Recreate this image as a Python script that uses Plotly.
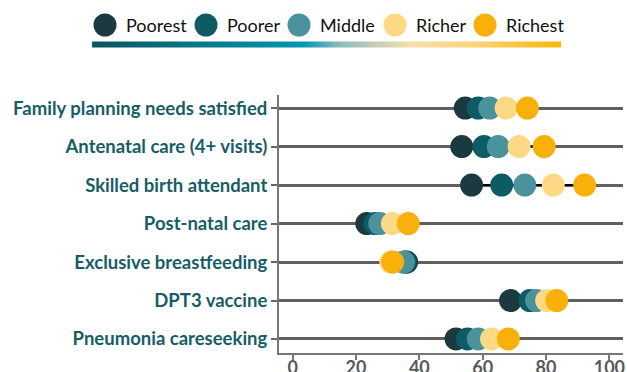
import plotly.graph_objects as go

# Coverage indicators (top to bottom) and values by wealth quintile (%)
indicators = [
    "Family planning needs satisfied",
    "Antenatal care (4+ visits)",
    "Skilled birth attendant",
    "Post-natal care",
    "Exclusive breastfeeding",
    "DPT3 vaccine",
    "Pneumonia careseeking",
]
quintiles = ["Poorest", "Poorer", "Middle", "Richer", "Richest"]
poorest = [54.5, 53.4, 56.5, 23.4, 36.0, 68.8, 51.6]
poorer = [58.6, 60.4, 66.0, 26.0, 35.5, 74.9, 55.2]
middle = [62.2, 64.9, 73.3, 27.5, 35.0, 77.0, 58.6]
richer = [67.4, 71.5, 82.3, 31.5, 31.0, 80.2, 62.8]
richest = [74.1, 79.4, 92.2, 36.5, 31.6, 83.4, 68.1]
x_ticks = [0, 20, 40, 60, 80, 100]

colors = ["#1b3a40", "#0d5b65", "#4a929c", "#fdd985", "#f9b00a"]
series = [poorest, poorer, middle, richer, richest]

W, H = 627, 372
label_col = "#175d66"
n = len(indicators)
ypos = list(range(n - 1, -1, -1))  # first indicator at top

fig = go.Figure()

# black range segment from lowest to highest quintile in each row
seg_x, seg_y = [], []
for i in range(n):
    vals = [s[i] for s in series]
    seg_x += [min(vals), max(vals), None]
    seg_y += [ypos[i], ypos[i], None]
fig.add_trace(go.Scatter(x=seg_x, y=seg_y, mode="lines",
                         line=dict(color="black", width=2),
                         hoverinfo="skip", showlegend=False))

for name, vals, c in zip(quintiles, series, colors):
    fig.add_trace(go.Scatter(x=vals, y=ypos, mode="markers", name=name,
                             marker=dict(size=23, color=c, line=dict(width=0)),
                             showlegend=False))

# custom legend drawn in pixel coordinates over the whole figure
leg_x = [105, 206, 299, 395, 485]
leg_y = 25
fig.add_trace(go.Scatter(x=leg_x, y=[leg_y] * 5, mode="markers",
                         marker=dict(size=23, color=colors, line=dict(width=0)),
                         xaxis="x2", yaxis="y2", hoverinfo="skip",
                         showlegend=False))
for lx, name in zip(leg_x, quintiles):
    fig.add_annotation(x=lx + 19, y=leg_y, xref="x2", yref="y2", text=name,
                       showarrow=False, xanchor="left", yanchor="middle",
                       font=dict(family="Lato", size=18, color="#111111"))

# gradient bar under the legend
bar_x0, bar_x1 = 94, 563
steps = 120
z = [[k / (steps - 1) for k in range(steps)]]
fig.add_trace(go.Heatmap(z=z, x0=bar_x0, dx=(bar_x1 - bar_x0) / steps,
                         y=[41.5, 47.5], xaxis="x2", yaxis="y2",
                         colorscale=[[0.0, "#0c5560"], [0.22, "#067787"],
                                     [0.45, "#0097b2"], [0.53, "#8cbcc0"],
                                     [0.68, "#f8dfa8"], [0.82, "#fbd378"],
                                     [1.0, "#f8b70a"]],
                         showscale=False, hoverinfo="skip", zmin=0, zmax=1))

plot_h = H - 19
fig.update_layout(
    width=W, height=H,
    margin=dict(l=0, r=4, t=0, b=19, autoexpand=False),
    paper_bgcolor="white", plot_bgcolor="rgba(0,0,0,0)",
    xaxis=dict(domain=[279 / 623, 1], range=[-4.3, 104.3],
               tickvals=x_ticks, ticks="outside", ticklen=5,
               tickcolor="#777777", tickwidth=1.5, ticklabelstandoff=-8,
               showline=True, linecolor="#777777", linewidth=2,
               showgrid=False, zeroline=False, automargin=False,
               tickfont=dict(family="Lato", size=18, color="#595959",
                             weight="bold")),
    yaxis=dict(domain=[0, (plot_h - 95) / plot_h], range=[-0.364, 6.34],
               tickvals=ypos, ticktext=indicators,
               ticks="outside", ticklen=6, tickcolor="#666666", tickwidth=1.5,
               showline=True, linecolor="#777777", linewidth=2,
               showgrid=True, gridcolor="#606060", gridwidth=2.5,
               zeroline=False, automargin=False,
               tickfont=dict(family="Lato", size=18.5, color=label_col,
                             weight="bold")),
    xaxis2=dict(domain=[0, 1], range=[0, 623], visible=False, fixedrange=True,
                automargin=False),
    yaxis2=dict(domain=[0, 1], range=[plot_h, 0], visible=False,
                fixedrange=True, automargin=False),
)

fig.write_html("out.html")
